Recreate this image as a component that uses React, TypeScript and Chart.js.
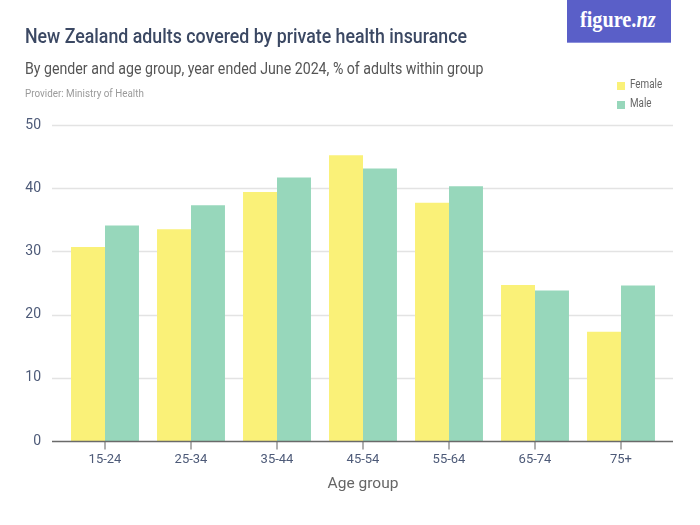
import React, { useEffect, useRef } from "react";
import { Chart, registerables } from "chart.js";

Chart.register(...registerables);

const categories = ["15-24", "25-34", "35-44", "45-54", "55-64", "65-74", "75+"];
const femaleValues = [30.7, 33.5, 39.4, 45.2, 37.7, 24.7, 17.3];
const maleValues = [34.1, 37.3, 41.7, 43.1, 40.3, 23.8, 24.6];
const seriesNames = ["Female", "Male"];
const seriesColors = ["#faf178", "#97d7bb"];
const yTicks = [0, 10, 20, 30, 40, 50];

const FONT = "Roboto, 'Noto Sans', sans-serif";

const gridPlugin = {
  id: "customGrid",
  beforeDatasetsDraw(chart: any) {
    const { ctx, scales } = chart;
    const y = scales.y;
    ctx.save();
    ctx.lineWidth = 1.5;
    ctx.strokeStyle = "#e3e3e3";
    yTicks.forEach((v) => {
      if (v === 0) return;
      const py = Math.round(y.getPixelForValue(v)) + 0.5;
      ctx.beginPath();
      ctx.moveTo(52, py);
      ctx.lineTo(673, py);
      ctx.stroke();
    });
    ctx.restore();
  },
  afterDatasetsDraw(chart: any) {
    const { ctx, scales } = chart;
    const y = scales.y;
    const x = scales.x;
    const py = Math.round(y.getPixelForValue(0)) + 0.5;
    ctx.save();
    ctx.strokeStyle = "#b0b0b0";
    ctx.lineWidth = 2;
    categories.forEach((_, i) => {
      const px = Math.round(x.getPixelForValue(i));
      ctx.beginPath();
      ctx.moveTo(px, py);
      ctx.lineTo(px, py + 8);
      ctx.stroke();
    });
    ctx.strokeStyle = "#6a6a6a";
    ctx.lineWidth = 1.5;
    ctx.beginPath();
    ctx.moveTo(52, py);
    ctx.lineTo(673, py);
    ctx.stroke();
    ctx.restore();
  },
};

export default function App() {
  const canvasRef = useRef<HTMLCanvasElement>(null);

  useEffect(() => {
    if (!canvasRef.current) return;
    const chart = new Chart(canvasRef.current, {
      type: "bar",
      data: {
        labels: categories,
        datasets: [
          {
            label: seriesNames[0],
            data: femaleValues,
            backgroundColor: seriesColors[0],
            borderWidth: 0,
            inflateAmount: 0,
            categoryPercentage: 0.79,
            barPercentage: 1,
          },
          {
            label: seriesNames[1],
            data: maleValues,
            backgroundColor: seriesColors[1],
            borderWidth: 0,
            inflateAmount: 0,
            categoryPercentage: 0.79,
            barPercentage: 1,
          },
        ],
      },
      options: {
        animation: false,
        responsive: false,
        maintainAspectRatio: false,
        layout: { padding: { left: 0, right: 36, top: 125, bottom: 0 } },
        plugins: {
          legend: { display: false },
          title: { display: false },
          tooltip: { enabled: false },
        },
        scales: {
          x: {
            grid: { display: false, drawTicks: false },
            border: { display: false },
            ticks: {
              color: "#4d5a78",
              font: { family: FONT, size: 13 },
              padding: 11,
            },
            title: {
              display: true,
              text: "Age group",
              color: "#666666",
              font: { family: FONT, size: 15.5 },
              padding: { top: 0, bottom: 32 },
            },
            afterFit: (scale: any) => {
              scale.height = 84;
            },
          },
          y: {
            min: 0,
            max: 50,
            afterBuildTicks: (scale: any) => {
              scale.ticks = yTicks.map((v) => ({ value: v }));
            },
            grid: { display: false, drawTicks: false },
            border: { display: false },
            ticks: {
              color: "#4d5a78",
              font: { family: FONT, size: 14 },
              padding: 21,
            },
            afterFit: (scale: any) => {
              scale.width = 62;
            },
          },
        },
      },
      plugins: [gridPlugin],
    });
    return () => chart.destroy();
  }, []);

  const squeeze = (s: number): React.CSSProperties => ({ transform: `scaleX(${s})`, transformOrigin: "left center" });

  return (
    <div style={{ position: "absolute", left: 0, top: 0, width: 700, height: 525, background: "#fff", fontFamily: FONT, overflow: "hidden" }}>
      <canvas ref={canvasRef} width={700} height={525} style={{ position: "absolute", left: 0, top: 0, width: 700, height: 525 }} />
      <div style={{ position: "absolute", left: 25, top: 24, fontSize: 19.5, fontWeight: 500, color: "#3b4863", whiteSpace: "nowrap", lineHeight: "26px", ...squeeze(0.911) }}>
        New Zealand adults covered by private health insurance
      </div>
      <div style={{ position: "absolute", left: 25, top: 59, fontSize: 16.5, color: "#555555", whiteSpace: "nowrap", lineHeight: "20px", ...squeeze(0.859) }}>
        By gender and age group, year ended June 2024, % of adults within group
      </div>
      <div style={{ position: "absolute", left: 25, top: 87, fontSize: 11, color: "#9a9a9a", whiteSpace: "nowrap", lineHeight: "14px", ...squeeze(0.895) }}>
        Provider: Ministry of Health
      </div>
      <div style={{ position: "absolute", left: 567, top: 0, width: 104, height: 42, background: "#5a5fc8", borderBottom: "1px solid #8c90dc" }}>
        <div style={{ position: "absolute", left: 13, top: 6, color: "#fff", fontFamily: "'Liberation Serif', 'DejaVu Serif', serif", fontSize: 23, fontWeight: 700, whiteSpace: "nowrap", lineHeight: "28px", ...squeeze(0.88) }}>
          figure.<span style={{ fontStyle: "italic" }}>nz</span>
        </div>
      </div>
      {seriesNames.map((name, i) => (
        <div key={name} style={{ position: "absolute", left: 617, top: 77 + i * 19, height: 14, display: "flex", alignItems: "center", whiteSpace: "nowrap" }}>
          <span style={{ display: "inline-block", width: 8, height: 8, background: seriesColors[i], marginRight: 5, marginTop: 3 }} />
          <span style={{ display: "inline-block", fontSize: 12, color: "#666666", ...squeeze(0.82) }}>{name}</span>
        </div>
      ))}
    </div>
  );
}
